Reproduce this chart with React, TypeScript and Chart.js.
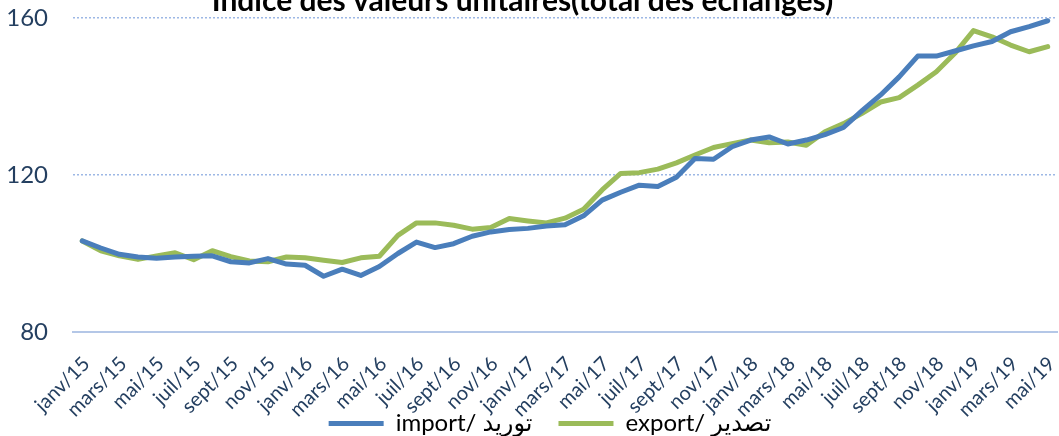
import React, { useEffect, useRef } from "react";
import { Chart, registerables } from "chart.js";

Chart.register(...registerables);

const TITLE = "Indice des valeurs unitaires(total des échanges)";

const months: string[] = [
  "janv/15", "févr/15", "mars/15", "avr/15", "mai/15", "juin/15", "juil/15", "août/15", "sept/15", "oct/15", "nov/15", "déc/15",
  "janv/16", "févr/16", "mars/16", "avr/16", "mai/16", "juin/16", "juil/16", "août/16", "sept/16", "oct/16", "nov/16", "déc/16",
  "janv/17", "févr/17", "mars/17", "avr/17", "mai/17", "juin/17", "juil/17", "août/17", "sept/17", "oct/17", "nov/17", "déc/17",
  "janv/18", "févr/18", "mars/18", "avr/18", "mai/18", "juin/18", "juil/18", "août/18", "sept/18", "oct/18", "nov/18", "déc/18",
  "janv/19", "févr/19", "mars/19", "avr/19", "mai/19",
];

const importValues: number[] = [
  103.2, 101.4, 99.8, 99.1, 98.8, 99.1, 99.3, 99.4, 97.9, 97.6, 98.7, 97.3,
  97.0, 94.2, 96.0, 94.4, 96.7, 100.0, 102.9, 101.5, 102.5, 104.4, 105.5, 106.1,
  106.4, 107.0, 107.3, 109.6, 113.6, 115.6, 117.4, 117.1, 119.4, 124.2, 124.0, 127.2,
  128.9, 129.7, 127.9, 128.9, 130.3, 132.1, 136.4, 140.4, 145.0, 150.3, 150.3, 151.6,
  152.9, 154.0, 156.5, 157.8, 159.3,
];

const exportValues: number[] = [
  103.2, 100.7, 99.4, 98.5, 99.4, 100.2, 98.4, 100.7, 99.2, 98.1, 97.9, 99.1,
  98.9, 98.3, 97.7, 98.9, 99.3, 104.6, 107.8, 107.8, 107.2, 106.2, 106.6, 108.9,
  108.3, 107.8, 109.0, 111.3, 116.2, 120.4, 120.6, 121.5, 123.1, 125.1, 127.0, 128.0,
  128.9, 128.2, 128.4, 127.6, 131.0, 133.1, 135.7, 138.6, 139.7, 142.9, 146.3, 151.0,
  156.8, 155.2, 153.1, 151.4, 152.7,
];

const seriesNames: string[] = ["import/ توريد", "export/ تصدير"];
const yTicks: number[] = [80, 120, 160];

const FONT = "Lato, 'DejaVu Sans', sans-serif";
const AXIS_COLOR = "#243F60";

const clippedTitle = {
  id: "clippedTitle",
  afterDraw(chart: any) {
    const ctx = chart.ctx;
    ctx.save();
    ctx.font = `bold 30px ${FONT}`;
    ctx.fillStyle = "#000";
    ctx.textAlign = "center";
    ctx.textBaseline = "alphabetic";
    ctx.fillText(TITLE, chart.width / 2 - 7, 10.5);
    ctx.restore();
  },
};

const legendShift = {
  id: "legendShift",
  afterLayout(chart: any) {
    const lg = chart.legend;
    if (lg) {
      lg.left -= 15;
      lg.right -= 15;
    }
  },
};

export default function App() {
  const canvasRef = useRef<HTMLCanvasElement | null>(null);

  useEffect(() => {
    document.body.style.margin = "0";
    const canvas = canvasRef.current;
    if (!canvas) return;
    const chart = new Chart(canvas, {
      type: "line",
      data: {
        labels: months,
        datasets: [
          {
            label: seriesNames[0],
            data: importValues,
            borderColor: "#4A7EBB",
            backgroundColor: "#4A7EBB",
            borderWidth: 5,
            pointRadius: 0,
            borderCapStyle: "round",
            borderJoinStyle: "round",
            tension: 0,
          },
          {
            label: seriesNames[1],
            data: exportValues,
            borderColor: "#9BBB59",
            backgroundColor: "#9BBB59",
            borderWidth: 5,
            pointRadius: 0,
            borderCapStyle: "round",
            borderJoinStyle: "round",
            tension: 0,
          },
        ],
      },
      plugins: [clippedTitle, legendShift],
      options: {
        animation: false,
        responsive: true,
        maintainAspectRatio: false,
        layout: { padding: { left: 0, right: 2, top: 18, bottom: -9.5 } },
        plugins: {
          title: { display: false },
          legend: {
            position: "bottom",
            fullSize: false,
            labels: {
              color: "#000",
              font: { family: FONT, size: 24 },
              usePointStyle: true,
              pointStyle: "line",
              pointStyleWidth: 55,
              padding: 26,
            },
          },
          tooltip: { enabled: false },
        },
        scales: {
          x: {
            offset: true,
            grid: { display: false, drawTicks: false },
            border: { display: true, color: "#B4C7E7", width: 2 },
            ticks: {
              autoSkip: false,
              maxRotation: 45,
              minRotation: 45,
              padding: 20,
              labelOffset: 4,
              color: AXIS_COLOR,
              font: { family: FONT, size: 20 },
              callback: (_v: any, i: number) => (i % 2 === 0 ? months[i] : ""),
            },
            afterFit: (scale: any) => {
              scale.height = 53.5;
              scale.paddingLeft = 0;
              scale.paddingRight = 0;
              scale._computeLabelArea = () => undefined;
            },
          },
          y: {
            min: 80,
            max: 160,
            afterBuildTicks: (scale: any) => {
              scale.ticks = yTicks.map((v) => ({ value: v }));
            },
            grid: { color: "#9DB8E5", lineWidth: 1.5, drawTicks: false },
            border: { display: false, dash: [2, 2] },
            ticks: {
              padding: 25,
              color: AXIS_COLOR,
              font: { family: FONT, size: 24 },
            },
            afterFit: (scale: any) => {
              scale.width = 73;
              scale.paddingTop = 0;
              scale.paddingBottom = 0;
            },
          },
        },
      },
    });
    return () => chart.destroy();
  }, []);

  return (
    <div style={{ width: 1059, height: 436, position: "relative" }}>
      <canvas ref={canvasRef} />
    </div>
  );
}
